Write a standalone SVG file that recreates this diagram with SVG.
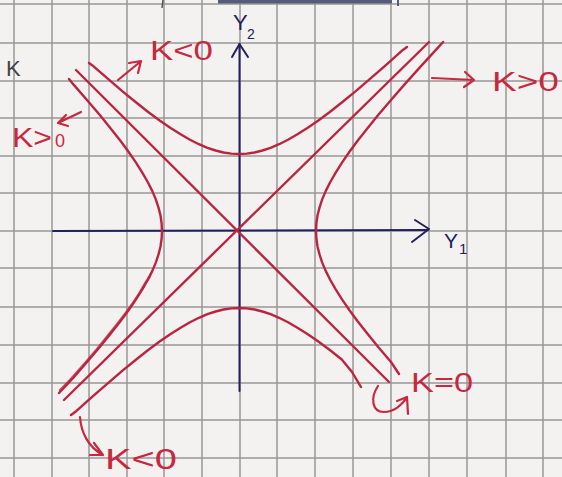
<svg xmlns="http://www.w3.org/2000/svg" width="562" height="477" viewBox="0 0 562 477">
<style>
.grid line{stroke:#979797;stroke-width:1.5}
.curve{fill:none;stroke:#bb2440;stroke-width:2.4;stroke-linejoin:round;stroke-linecap:round}
.axis{fill:none;stroke:#22205e;stroke-width:2;stroke-linecap:round;stroke-linejoin:round}
.arr{fill:none;stroke:#c8283f;stroke-width:2.2;stroke-linecap:round;stroke-linejoin:round}
.lbl{font-family:"Liberation Sans",Arial,sans-serif;fill:#c8283f}
.albl{font-family:"Liberation Sans",Arial,sans-serif;fill:#22205e}
</style>
<rect width="562" height="477" fill="#f4f2f0"/>
<g class="grid">
<line x1="14" y1="0" x2="14" y2="477"/><line x1="52" y1="0" x2="52" y2="477"/><line x1="89" y1="0" x2="89" y2="477"/><line x1="127" y1="0" x2="127" y2="477"/><line x1="164" y1="0" x2="164" y2="477"/><line x1="202" y1="0" x2="202" y2="477"/><line x1="240" y1="0" x2="240" y2="477"/><line x1="277" y1="0" x2="277" y2="477"/><line x1="315" y1="0" x2="315" y2="477"/><line x1="353" y1="0" x2="353" y2="477"/><line x1="391" y1="0" x2="391" y2="477"/><line x1="429" y1="0" x2="429" y2="477"/><line x1="467" y1="0" x2="467" y2="477"/><line x1="506" y1="0" x2="506" y2="477"/><line x1="543" y1="0" x2="543" y2="477"/>
<line x1="0" y1="4" x2="562" y2="4"/><line x1="0" y1="43" x2="562" y2="43"/><line x1="0" y1="81" x2="562" y2="81"/><line x1="0" y1="118" x2="562" y2="118"/><line x1="0" y1="156" x2="562" y2="156"/><line x1="0" y1="193" x2="562" y2="193"/><line x1="0" y1="231" x2="562" y2="231"/><line x1="0" y1="268" x2="562" y2="268"/><line x1="0" y1="307" x2="562" y2="307"/><line x1="0" y1="345" x2="562" y2="345"/><line x1="0" y1="383" x2="562" y2="383"/><line x1="0" y1="420" x2="562" y2="420"/><line x1="0" y1="458" x2="562" y2="458"/>
</g>
<g id="page-marks">
<line x1="218" y1="1.5" x2="392" y2="1.5" stroke="#565c78" stroke-width="4"/>
<line x1="398" y1="0" x2="398" y2="6" stroke="#565c78" stroke-width="2"/>
<line x1="163" y1="0" x2="162" y2="8" stroke="#555" stroke-width="1.5"/>
</g>
<g id="axes">
<path class="axis" d="M239.5,391 L239.5,44"/>
<path class="axis" d="M232,57 L239.5,44 L248,57"/>
<path class="axis" d="M53,231 L428,230"/>
<path class="axis" d="M415,220 L429,229 L412,242"/>
<text class="albl" x="233" y="30" font-size="22">Y</text>
<text class="albl" x="247" y="39" font-size="14">2</text>
<text class="albl" x="444" y="248" font-size="21">Y</text>
<text class="albl" x="459" y="254" font-size="15">1</text>
</g>
<g id="connectors">
<path class="curve" d="M76,70 L389,382"/>
<path class="curve" d="M64,400 L429,42"/>
<path class="curve" d="M443.1,42 L437.5,48.1 L420.1,67.1 L404.6,84.4 L390.8,100.3 L378.4,114.8 L367.5,128.2 L357.8,140.5 L349.3,152 L342,162.6 L335.7,172.6 L330.3,182 L325.8,190.9 L322.2,199.4 L319.5,207.6 L317.5,215.5 L316.4,223.3 L316,231 L316.4,238.7 L317.5,246.5 L319.5,254.4 L322.2,262.6 L325.8,271.1 L330.3,280 L335.7,289.4 L342,299.4 L349.3,310 L357.8,321.5 L367.5,333.8 L378.4,347.2 L390.8,361.7 L399,374"/>
<path class="curve" d="M69,79 L73.4,84.4 L87.2,100.3 L99.6,114.8 L110.5,128.2 L120.2,140.5 L128.7,152 L136,162.6 L142.3,172.6 L147.7,182 L152.2,190.9 L155.8,199.4 L158.5,207.6 L160.5,215.5 L161.6,223.3 L162,231 L161.6,238.7 L160.5,246.5 L158.5,254.4 L155.8,262.6 L152.2,271.1 L147.7,280 L142.3,289.4 L136,299.4 L128.7,310 L120.2,321.5 L110.5,333.8 L99.6,347.2 L87.2,361.7 L73.4,377.6 L59,393"/>
<path class="curve" stroke-width="1.4" opacity="0.75" d="M150,276 L144.7,284 L139.3,293.4 L133,303 L125.7,313 L117.2,324 L107.5,336 L96.6,349.5 L84.2,364 L70.4,379.6 L60,390"/>
<path class="curve" d="M89,63 L92.4,65.4 L108.3,79.2 L122.8,91.6 L136.2,102.5 L148.5,112.2 L160,120.7 L170.6,128 L180.6,134.3 L190,139.7 L198.9,144.2 L207.4,147.8 L215.6,150.5 L223.5,152.5 L231.3,153.6 L239,154 L246.7,153.6 L254.5,152.5 L262.4,150.5 L270.6,147.8 L279.1,144.2 L288,139.7 L297.4,134.3 L307.4,128 L318,120.7 L329.5,112.2 L341.8,102.5 L355.2,91.6 L369.7,79.2 L385.6,65.4 L402.9,49.9 L407,47"/>
<path class="curve" d="M71,415 L75.1,412.1 L92.4,396.6 L108.3,382.8 L122.8,370.4 L136.2,359.5 L148.5,349.8 L160,341.3 L170.6,334 L180.6,327.7 L190,322.3 L198.9,317.8 L207.4,314.2 L215.6,311.5 L223.5,309.5 L231.3,308.4 L239,308 L246.7,308.4 L254.5,309.5 L262.4,311.5 L270.6,314.2 L279.1,317.8 L288,322.3 L297.4,327.7 L307.4,334 L318,341.3 L329.5,349.8 L341.8,359.5 L352,372 L361,387"/>
</g>
<g id="annotations">
<path class="arr" d="M118,80 L140,62 M129,63 L141,61 L138,73"/>
<path class="arr" d="M81,112 L58,123 M66,115 L58,123 L68,126"/>
<path class="arr" d="M432,78 L474,80 M465,72 L474,80 L464,87"/>
<path class="arr" d="M378,386 C370,398 372,412 384,412 C394,412 400,406 406,399 M397,401 L407,397 L408,414"/>
<path class="arr" d="M80,417 C81,432 88,447 103,455 M94,443 L103,455 L90,455"/>
</g>
<g id="labels">
<text x="6" y="76" font-size="22" font-family="Liberation Sans, Arial, sans-serif" fill="#444">K</text>
<text class="lbl" x="150" y="60" font-size="27" textLength="63" lengthAdjust="spacingAndGlyphs">K&lt;0</text>
<text class="lbl" x="12" y="147" font-size="27" textLength="40" lengthAdjust="spacingAndGlyphs">K&gt;</text>
<text class="lbl" x="55" y="147" font-size="18">0</text>
<text class="lbl" x="492" y="91" font-size="28" textLength="67" lengthAdjust="spacingAndGlyphs">K&gt;0</text>
<text class="lbl" x="411" y="392" font-size="28" textLength="62" lengthAdjust="spacingAndGlyphs">K=0</text>
<text class="lbl" x="105" y="469" font-size="30" textLength="72" lengthAdjust="spacingAndGlyphs">K&lt;0</text>
</g>
</svg>
